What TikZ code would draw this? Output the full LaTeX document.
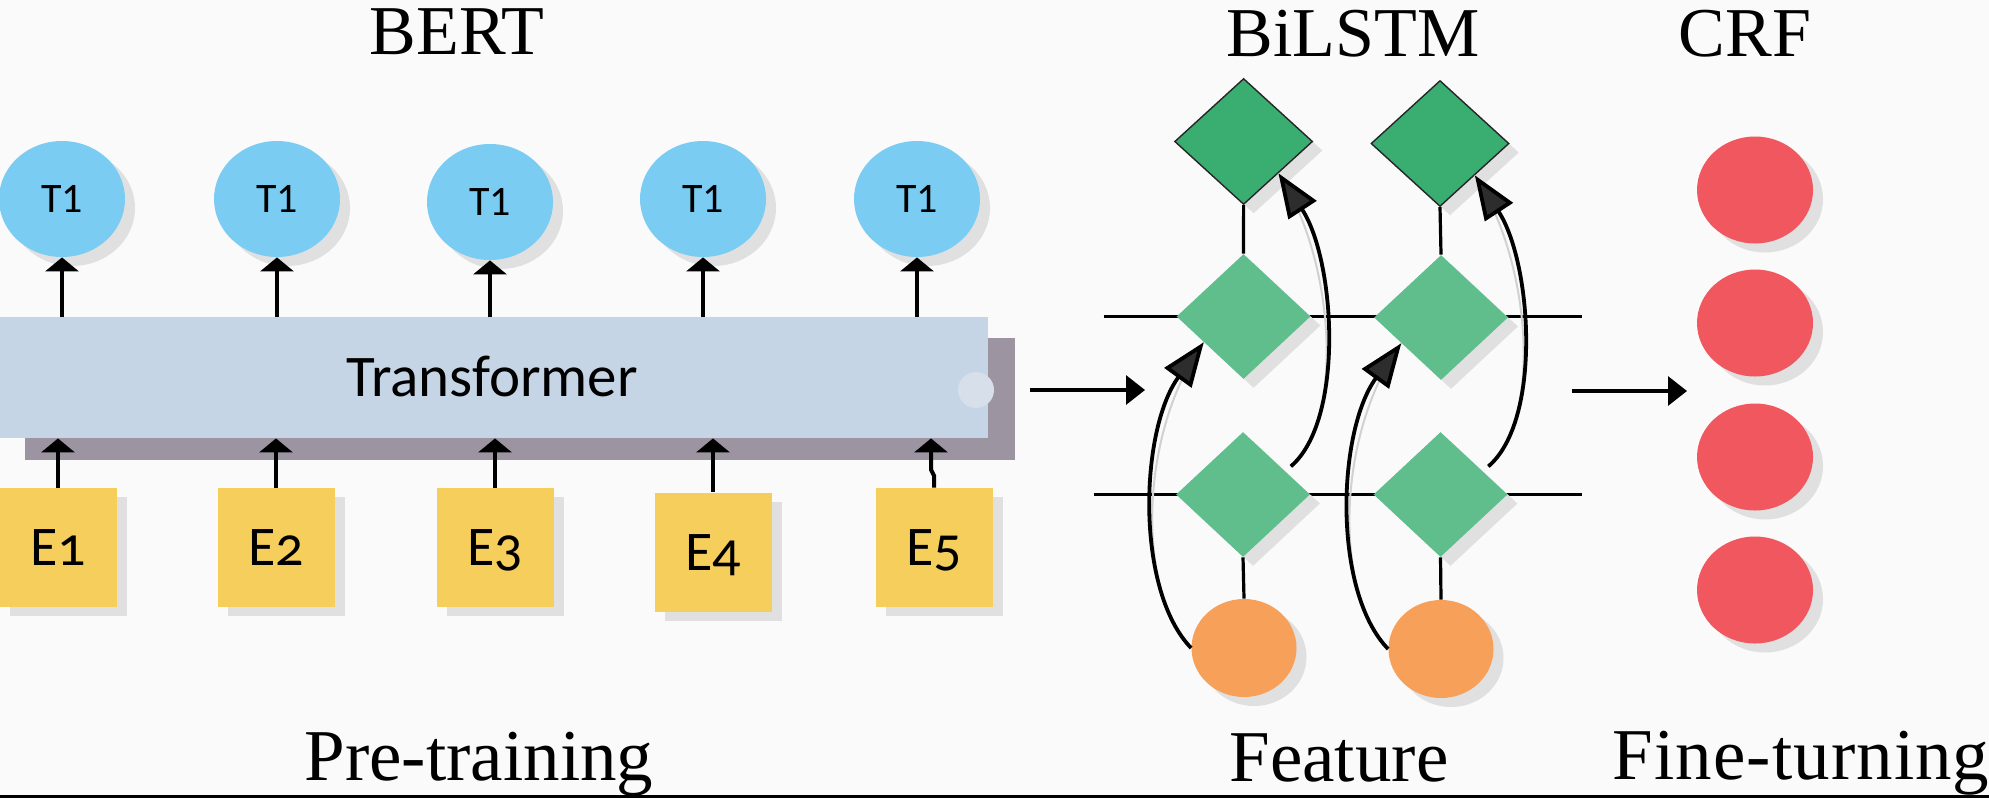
\documentclass[tikz,border=0pt]{standalone}
\usepackage{fontspec}
\setmainfont{Liberation Serif}
\newfontfamily\calib{Carlito}
\newfontfamily\calibold[Numbers=OldStyle]{Carlito}
\usetikzlibrary{shapes.geometric,arrows.meta,shadows,calc}
\pgfdeclarelayer{bg}
\pgfsetlayers{bg,main}
\definecolor{bgc}{RGB}{250,250,250}
\definecolor{tblue}{RGB}{122,204,242}
\definecolor{tfblue}{RGB}{197,213,230}
\definecolor{tfgray}{RGB}{156,149,161}
\definecolor{tfdot}{RGB}{214,223,234}
\definecolor{eyel}{RGB}{246,206,92}
\definecolor{dkgreen}{RGB}{58,174,112}
\definecolor{ltgreen}{RGB}{95,190,140}
\definecolor{orng}{RGB}{247,160,90}
\definecolor{redc}{RGB}{240,87,94}
\definecolor{headgray}{RGB}{45,45,45}
\begin{document}
\begin{tikzpicture}[x=0.5pt,y=-0.5pt,
  shd/.style={drop shadow={shadow xshift=5pt,shadow yshift=-4.5pt,fill=black!12,opacity=1}},
  title/.style={font=\fontsize{36.5}{40}\selectfont,inner sep=0pt,text height=24pt,text depth=0pt},
  toptitle/.style={font=\fontsize{35}{40}\selectfont,inner sep=0pt,text height=23pt,text depth=0pt},
  tnode/.style={ellipse,fill=tblue,minimum width=63pt,minimum height=58pt,inner sep=0pt,shd,
    font=\calib\fontsize{21}{24}\selectfont,text height=13.5pt,text depth=0pt},
  ebox/.style={rectangle,fill=eyel,minimum width=58.5pt,minimum height=59.5pt,inner sep=0pt,shd,
    font=\calibold\fontsize{28}{30}\selectfont,text height=18pt,text depth=0pt},
  dtop/.style={diamond,fill=dkgreen,draw=black!85,line width=0.7pt,minimum width=69pt,minimum height=63pt,inner sep=0pt,shd},
  dmid/.style={diamond,fill=ltgreen,minimum width=67pt,minimum height=62.5pt,inner sep=0pt,shd},
  onode/.style={ellipse,fill=orng,minimum width=52.5pt,minimum height=49pt,inner sep=0pt,shd},
  rnode/.style={ellipse,fill=redc,minimum width=58pt,minimum height=53.5pt,inner sep=0pt,shd},
  barr/.style={line width=2pt,-{Triangle[length=7pt,width=16.5pt]}},
  harr/.style={line width=1.6pt,-{Triangle[length=9.5pt,width=14.5pt]}},
  carr/.style={line width=1.9pt,-{Triangle[length=22pt,width=16.5pt,fill=headgray]}},
  cshadow/.style={draw=black!18,line width=1pt,xshift=4.5pt},
  hline/.style={line width=1.6pt},
  vline/.style={line width=1.6pt}]
\begin{pgfonlayer}{bg}
\fill[bgc] (0,0) rectangle (1989,798);
\end{pgfonlayer}
\useasboundingbox (0,0) rectangle (1989,798);

% titles and labels
\node[toptitle,anchor=base] (tBERT) at (457,54) {BERT};
\node[toptitle,anchor=base] (tBiLSTM) at (1353,56) {BiLSTM};
\node[toptitle,anchor=base] (tCRF) at (1745,56) {CRF};
\node[title,anchor=base] (lPre) at (479,780) {Pre-training};
\node[title,anchor=base] (lFeat) at (1339,781) {Feature};
\node[title,anchor=base] (lFine) at (1801,779) {\addfontfeature{LetterSpace=1.5}Fine-turning};

% transformer block
\node[rectangle,fill=tfgray,minimum width=495pt,minimum height=61pt,inner sep=0pt] (bar) at (520,399) {};
\node[rectangle,fill=tfblue,minimum width=494pt,minimum height=60.5pt,inner sep=0pt] (tr) at (494,377.5) {};
\node[circle,fill=tfdot,minimum size=18pt,inner sep=0pt] (dot) at (976,390) {};
\node[font=\calib\fontsize{29.5}{32}\selectfont,inner sep=0pt,text depth=0pt] (trtext) at (492,376) {Transformer};

% T1 outputs
\node[tnode] (T1) at (62,199) {T1};
\node[tnode] (T2) at (277,199) {T1};
\node[tnode] (T3) at (490,202) {T1};
\node[tnode] (T4) at (703,199) {T1};
\node[tnode] (T5) at (917,199) {T1};

% E inputs
\node[ebox] (E1) at (58,547.5) {E1};
\node[ebox] (E2) at (276,547.5) {E2};
\node[ebox] (E3) at (495,547.5) {E3};
\node[ebox] (E4) at (713,552) {E4};
\node[ebox] (E5) at (934,547.5) {E5};

\foreach \n in {1,...,5} \draw[barr] (T\n.south |- tr.north) -- (T\n.south);
\foreach \n in {1,...,4} \draw[barr] (E\n.north) -- (E\n.north |- tr.south);
\draw[barr] (E5.north) -- ++(0,-12) -- ++(-3,-6) -- ($(E5.north |- tr.south)+(-3,0)$);

% BiLSTM
\node[dtop] (t1) at (1243.6,141.5) {};
\node[dtop] (t2) at (1440,143.5) {};
\node[dmid] (dA) at (1243.5,316.5) {};
\node[dmid] (dB) at (1441,317.5) {};
\node[dmid] (dC) at (1243,494.5) {};
\node[dmid] (dD) at (1440.5,494.5) {};
\node[onode] (o1) at (1244,648) {};
\node[onode] (o2) at (1441,649) {};

\begin{pgfonlayer}{bg}
\draw[hline] ($(dA.center)+(-140,0)$) -- ($(dB.center)+(141,-1)$);
\draw[hline] ($(dC.center)+(-149,0)$) -- ($(dD.center)+(141.5,0)$);
\end{pgfonlayer}

\draw[vline] (t1.south) -- (dA.north);
\draw[vline] (t2.south) -- (dB.north);
\draw[vline] (dC.south) -- (o1.north);
\draw[vline] (dD.south) -- (o2.north);

% curved arrows with faint shadows
\draw[cshadow] (o1.west) .. controls +(-56,-58) and +(-64,88) .. ($(dA.west)!0.41!(dA.south)$);
\draw[cshadow] (o2.west) .. controls +(-56,-58) and +(-64,88) .. ($(dB.west)!0.41!(dB.south)$);
\draw[cshadow] ($(dC.north)!0.68!(dC.east)+(2,-8)$) .. controls +(54,-46) and +(57,87) .. ($(t1.south)!0.5!(t1.east)$);
\draw[cshadow] ($(dD.north)!0.68!(dD.east)+(2,-8)$) .. controls +(54,-46) and +(57,87) .. ($(t2.south)!0.5!(t2.east)$);

\draw[carr] (o1.west) .. controls +(-56,-58) and +(-64,88) .. ($(dA.west)!0.41!(dA.south)$);
\draw[carr] (o2.west) .. controls +(-56,-58) and +(-64,88) .. ($(dB.west)!0.41!(dB.south)$);
\draw[carr] ($(dC.north)!0.68!(dC.east)+(2,-8)$) .. controls +(54,-46) and +(57,87) .. ($(t1.south)!0.5!(t1.east)$);
\draw[carr] ($(dD.north)!0.68!(dD.east)+(2,-8)$) .. controls +(54,-46) and +(57,87) .. ($(t2.south)!0.5!(t2.east)$);

% CRF
\node[rnode] (r1) at (1755,190) {};
\node[rnode] (r2) at (1755,323) {};
\node[rnode] (r3) at (1755,457) {};
\node[rnode] (r4) at (1755,590) {};

% flow arrows
\coordinate (h1s) at (1030,390);
\coordinate (h1e) at (1145,390);
\coordinate (h2s) at (1572,391);
\coordinate (h2e) at (1687,391);
\draw[harr] (h1s) -- (h1e);
\draw[harr] (h2s) -- (h2e);

% bottom rule
\draw[line width=1.3pt] (0,796.7) -- (1989,796.7);
\end{tikzpicture}
\end{document}
